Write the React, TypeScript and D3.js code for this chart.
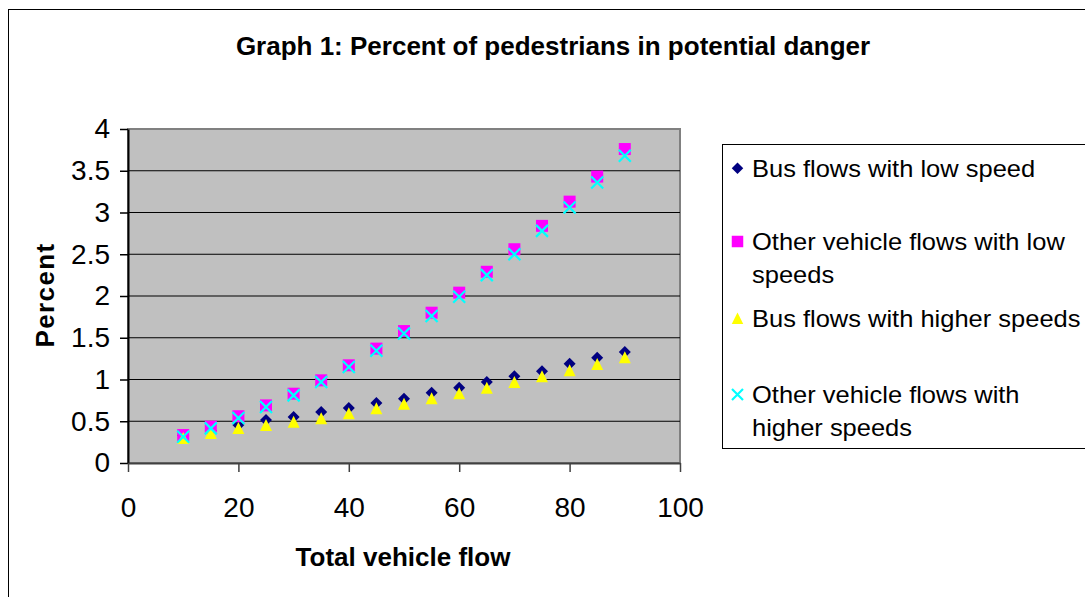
import { useEffect, useRef } from 'react';
import * as d3 from 'd3';

const flows = [10, 15, 20, 25, 30, 35, 40, 45, 50, 55, 60, 65, 70, 75, 80, 85, 90];
const busLow = [0.33, 0.39, 0.455, 0.515, 0.55, 0.61, 0.66, 0.72, 0.77, 0.84, 0.9, 0.97, 1.04, 1.1, 1.19, 1.26, 1.33];
const otherLow = [0.335, 0.435, 0.56, 0.69, 0.83, 0.99, 1.17, 1.37, 1.58, 1.8, 2.04, 2.29, 2.56, 2.84, 3.13, 3.43, 3.76];
const busHigh = [0.3, 0.36, 0.42, 0.455, 0.495, 0.535, 0.595, 0.655, 0.71, 0.775, 0.835, 0.9, 0.97, 1.04, 1.11, 1.185, 1.265];
const otherHigh = [0.315, 0.415, 0.54, 0.67, 0.81, 0.97, 1.15, 1.345, 1.55, 1.76, 1.99, 2.25, 2.5, 2.78, 3.06, 3.36, 3.68];
const xTicks = [0, 20, 40, 60, 80, 100];
const yTicks = [0, 0.5, 1, 1.5, 2, 2.5, 3, 3.5, 4];

const series = [
  { name: ['Bus flows with low speed'], values: busLow, shape: 'diamond', color: '#000080' },
  { name: ['Other vehicle flows with low', 'speeds'], values: otherLow, shape: 'square', color: '#ff00ff' },
  { name: ['Bus flows with higher speeds'], values: busHigh, shape: 'triangle', color: '#ffff00' },
  { name: ['Other vehicle flows with', 'higher speeds'], values: otherHigh, shape: 'cross', color: '#00ffff' },
];

const FONT = 'Arial, "Liberation Sans", sans-serif';

function drawMarker(g: any, shape: string, color: string, cx: number, cy: number, s: number) {
  const h = s / 2;
  if (shape === 'diamond') {
    g.append('path')
      .attr('d', `M${cx},${cy - h}L${cx + h},${cy}L${cx},${cy + h}L${cx - h},${cy}Z`)
      .attr('fill', color);
  } else if (shape === 'square') {
    g.append('rect')
      .attr('x', cx - h).attr('y', cy - h)
      .attr('width', s).attr('height', s)
      .attr('fill', color);
  } else if (shape === 'triangle') {
    g.append('path')
      .attr('d', `M${cx},${cy - h}L${cx + h},${cy + h}L${cx - h},${cy + h}Z`)
      .attr('fill', color);
  } else {
    g.append('path')
      .attr('d', `M${cx - h},${cy - h}L${cx + h},${cy + h}M${cx - h},${cy + h}L${cx + h},${cy - h}`)
      .attr('stroke', color)
      .attr('stroke-width', 2.2)
      .attr('fill', 'none');
  }
}

export default function App() {
  const ref = useRef<SVGSVGElement | null>(null);

  useEffect(() => {
    const svg = d3.select(ref.current);
    svg.selectAll('*').remove();

    const left = 128, right = 680, top = 129, bottom = 463;

    const x = d3.scaleLinear().domain([0, 100]).range([left, right]);
    const y = d3.scaleLinear().domain([0, 4]).range([bottom, top]);

    // outer frame
    svg.append('rect')
      .attr('x', 8.5).attr('y', 9.5)
      .attr('width', 1085).attr('height', 600)
      .attr('fill', '#fff')
      .attr('stroke', '#000');

    svg.append('text')
      .attr('x', 553).attr('y', 55)
      .attr('text-anchor', 'middle')
      .attr('font-family', FONT)
      .attr('font-weight', 'bold')
      .attr('font-size', 26)
      .text('Graph 1: Percent of pedestrians in potential danger');

    // plot area
    svg.append('rect')
      .attr('x', left).attr('y', top)
      .attr('width', right - left).attr('height', bottom - top)
      .attr('fill', '#c0c0c0')
      .attr('stroke', '#808080')
      .attr('stroke-width', 2);

    svg.append('g')
      .selectAll('line')
      .data(yTicks.slice(1, -1))
      .join('line')
      .attr('x1', left).attr('x2', right)
      .attr('y1', d => y(d)).attr('y2', d => y(d))
      .attr('stroke', '#000')
      .attr('stroke-width', 1.2);

    const yAxis = svg.append('g')
      .attr('transform', `translate(${left},0)`)
      .call(d3.axisLeft(y).tickValues(yTicks).tickSizeInner(8).tickSizeOuter(0).tickPadding(10).tickFormat(d => `${d}`));
    yAxis.select('.domain').attr('stroke', '#000').attr('stroke-width', 2);
    yAxis.selectAll('line').attr('stroke', '#000').attr('stroke-width', 1.5);
    yAxis.selectAll('text').attr('font-family', FONT).attr('font-size', 28).attr('fill', '#000');

    const xAxis = svg.append('g')
      .attr('transform', `translate(0,${bottom})`)
      .call(d3.axisBottom(x).tickValues(xTicks).tickSizeInner(9).tickSizeOuter(0).tickPadding(25).tickFormat(d => `${d}`));
    xAxis.select('.domain').attr('stroke', '#404040').attr('stroke-width', 2);
    xAxis.selectAll('line').attr('stroke', '#404040').attr('stroke-width', 1.5);
    xAxis.selectAll('text').attr('font-family', FONT).attr('font-size', 28).attr('fill', '#000');

    svg.append('text')
      .attr('x', 403).attr('y', 566)
      .attr('text-anchor', 'middle')
      .attr('font-family', FONT)
      .attr('font-weight', 'bold')
      .attr('font-size', 26)
      .text('Total vehicle flow');

    svg.append('text')
      .attr('transform', 'translate(54,295) rotate(-90)')
      .attr('text-anchor', 'middle')
      .attr('font-family', FONT)
      .attr('font-weight', 'bold')
      .attr('font-size', 26)
      .attr('letter-spacing', 1.4)
      .text('Percent');

    // markers, drawn in series order
    const marks = svg.append('g');
    series.forEach(s => {
      s.values.forEach((v, i) => {
        drawMarker(marks, s.shape, s.color, x(flows[i]), y(v), 12);
      });
    });

    // legend
    const lg = svg.append('g');
    lg.append('rect')
      .attr('x', 722.5).attr('y', 144.5)
      .attr('width', 400).attr('height', 304)
      .attr('fill', '#fff')
      .attr('stroke', '#000');
    const baseY = [176.7, 250, 326.7, 403];
    series.forEach((s, i) => {
      drawMarker(lg, s.shape, s.color, 737.5, baseY[i] - 8.5, s.shape === 'cross' ? 11 : 11.5);
      s.name.forEach((line, j) => {
        lg.append('text')
          .attr('transform', `translate(752,${baseY[i] + j * 33}) scale(1.04,1)`)
          .attr('font-family', FONT)
          .attr('font-size', 24.5)
          .attr('fill', '#000')
          .text(line);
      });
    });
  }, []);

  return (
    <svg
      ref={ref}
      width={1085}
      height={597}
      style={{ position: 'absolute', left: 0, top: 0, background: '#fff' }}
    />
  );
}
